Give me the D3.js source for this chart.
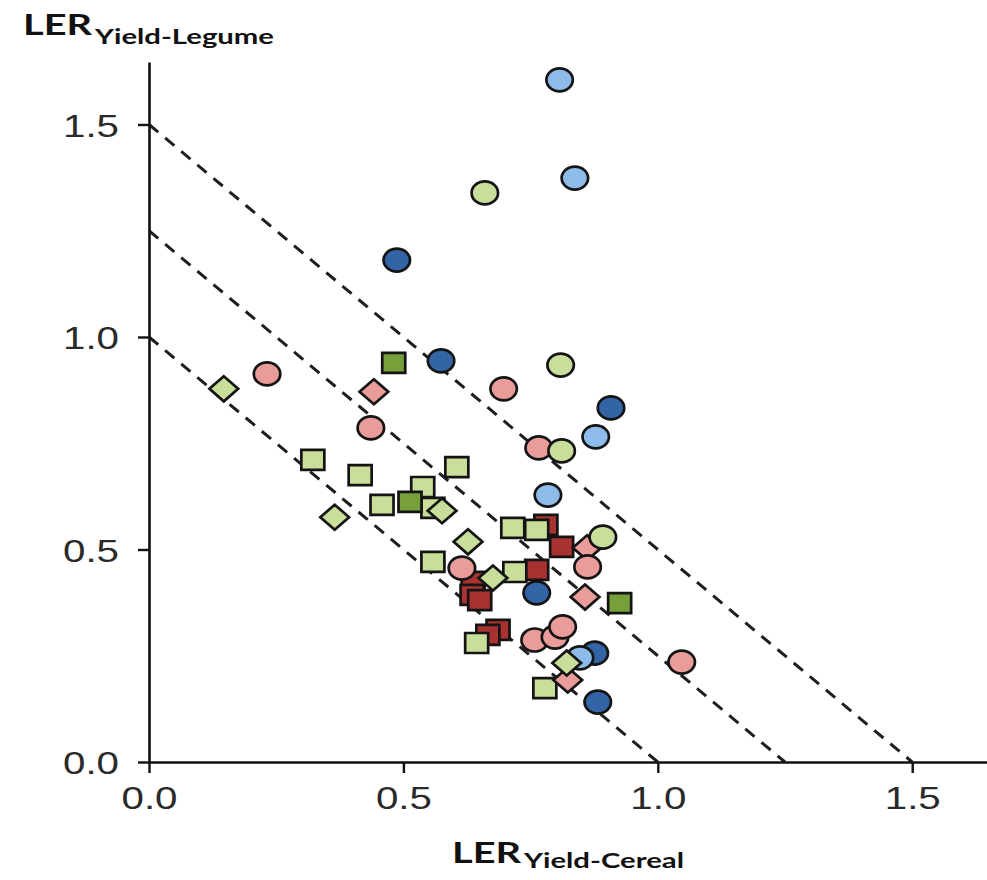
<!DOCTYPE html>
<html>
<head>
<meta charset="utf-8">
<script src="https://cdn.jsdelivr.net/npm/d3@7"></script>
<style>
  body { margin: 0; background: #fff; }
  svg { display: block; }
</style>
</head>
<body>
<div id="chart"></div>
<script>
var margin = {top: 62, right: 0, bottom: 118, left: 149},
  width = 987 - margin.left - margin.right,
  height = 880 - margin.top - margin.bottom;

// [LER cereal, LER legume] pairs
var lightBlueCircles = [[0.807, 1.605], [0.837, 1.374], [0.878, 0.765], [0.784, 0.628], [0.847, 0.245]];
var darkBlueCircles = [[0.487, 1.181], [0.574, 0.944], [0.908, 0.833], [0.762, 0.398], [0.876, 0.256], [0.882, 0.141]];
var greenCircles = [[0.660, 1.339], [0.809, 0.934], [0.811, 0.732], [0.892, 0.529]];
var pinkCircles = [[0.232, 0.913], [0.697, 0.878], [0.436, 0.786], [0.766, 0.739], [0.862, 0.459],
  [0.615, 0.456], [0.758, 0.287], [0.798, 0.294], [0.813, 0.318], [1.047, 0.235]];
var greenDiamonds = [[0.147, 0.878], [0.365, 0.576], [0.576, 0.591], [0.627, 0.518], [0.676, 0.433], [0.821, 0.233]];
var pinkDiamonds = [[0.442, 0.871], [0.861, 0.504], [0.857, 0.388], [0.823, 0.193]];
var darkGreenSquares = [[0.481, 0.939], [0.513, 0.612], [0.925, 0.374]];
var greenSquares = [[0.322, 0.711], [0.415, 0.675], [0.458, 0.605], [0.538, 0.647], [0.558, 0.598], [0.605, 0.694],
  [0.558, 0.471], [0.715, 0.551], [0.762, 0.546], [0.719, 0.447], [0.644, 0.280], [0.778, 0.174]];
var redSquares = [[0.780, 0.558], [0.811, 0.506], [0.762, 0.452], [0.637, 0.424], [0.635, 0.393],
  [0.650, 0.381], [0.686, 0.311], [0.666, 0.299]];

var lerLines = [1.0, 1.25, 1.5];
var tickValues = [0, 0.5, 1.0, 1.5];

var diamond = {
  draw: function (ctx, size) {
    var r = Math.sqrt(size) / 2;
    ctx.moveTo(0, -r); ctx.lineTo(r, 0); ctx.lineTo(0, r); ctx.lineTo(-r, 0); ctx.closePath();
  }
};

// drawing order matters for the overlaps
var series = [
  {data: redSquares, shape: d3.symbolSquare, size: 400, fill: "#a8322f"},
  {data: greenSquares, shape: d3.symbolSquare, size: 400, fill: "#c8de9a"},
  {data: darkGreenSquares, shape: d3.symbolSquare, size: 400, fill: "#76a03a"},
  {data: pinkDiamonds, shape: diamond, size: 625, fill: "#e99c9a"},
  {data: pinkCircles, shape: d3.symbolCircle, size: Math.PI * 11.5 * 11.5, fill: "#e99c9a"},
  {data: darkBlueCircles, shape: d3.symbolCircle, size: Math.PI * 11.5 * 11.5, fill: "#3364a5"},
  {data: lightBlueCircles, shape: d3.symbolCircle, size: Math.PI * 11.5 * 11.5, fill: "#8dbcea"},
  {data: greenCircles, shape: d3.symbolCircle, size: Math.PI * 11.5 * 11.5, fill: "#c8de9a"},
  {data: greenDiamonds, shape: diamond, size: 625, fill: "#c8de9a"}
];

var svg = d3.select("#chart").append("svg")
  .attr("width", width + margin.left + margin.right)
  .attr("height", height + margin.top + margin.bottom)
  .append("g")
  .attr("transform", "translate(" + margin.left + "," + margin.top + ")");

var x = d3.scaleLinear().domain([0, 1.647]).range([0, width]);
var y = d3.scaleLinear().domain([0, 1.647]).range([height, 0]);

// LER isolines
svg.selectAll(".ler")
  .data(lerLines)
  .enter().append("line")
  .attr("class", "ler")
  .attr("x1", x(0)).attr("y1", function (d) { return y(d); })
  .attr("x2", function (d) { return x(d); }).attr("y2", y(0))
  .style("stroke", "#1e1e1e")
  .style("stroke-width", 3)
  .style("stroke-dasharray", "12,9");

// points
series.forEach(function (s) {
  svg.append("g").selectAll("path")
    .data(s.data)
    .enter().append("path")
    .attr("d", d3.symbol().type(s.shape).size(s.size))
    .attr("transform", function (d) { return "translate(" + x(d[0]) + "," + y(d[1]) + ") scale(1.15,1)"; })
    .style("fill", s.fill)
    .style("stroke", "#141414")
    .style("stroke-width", 2.7)
    .attr("vector-effect", "non-scaling-stroke");
});

var fmt = d3.format(".1f");

var xAxis = svg.append("g")
  .attr("transform", "translate(0," + height + ")")
  .call(d3.axisBottom(x).tickValues(tickValues).tickFormat(fmt).tickSize(11).tickSizeOuter(0).tickPadding(13));

var yAxis = svg.append("g")
  .call(d3.axisLeft(y).tickValues(tickValues).tickFormat(fmt).tickSize(11).tickSizeOuter(0).tickPadding(19));

[xAxis, yAxis].forEach(function (a) {
  a.select(".domain").style("stroke", "#111").style("stroke-width", 2.6);
  a.selectAll(".tick line").style("stroke", "#111").style("stroke-width", 2.4);
  a.selectAll(".tick text")
    .style("font-family", "'Liberation Sans', Arial, sans-serif")
    .style("font-size", "32px")
    .style("fill", "#2a2a2a")
    .attr("textLength", 56)
    .attr("lengthAdjust", "spacingAndGlyphs");
});
yAxis.selectAll(".tick text").attr("dy", "0.36em");

// axis titles
var root = d3.select("#chart svg");
function title(xp, yp, sub, subLen, subDy) {
  var t = root.append("text")
    .attr("x", xp).attr("y", yp)
    .style("font-family", "Lato, 'Open Sans', sans-serif")
    .style("font-weight", "bold")
    .style("fill", "#111");
  t.append("tspan")
    .style("font-size", "29px")
    .attr("textLength", 69)
    .attr("lengthAdjust", "spacingAndGlyphs")
    .text("LER");
  t.append("tspan")
    .attr("dx", 3)
    .attr("dy", subDy)
    .style("font-size", "21px")
    .attr("textLength", subLen)
    .attr("lengthAdjust", "spacingAndGlyphs")
    .text(sub);
}
title(23, 35, "Yield-Legume", 179, 9);
title(452, 863, "Yield-Cereal", 160, 5);
</script>
</body>
</html>
